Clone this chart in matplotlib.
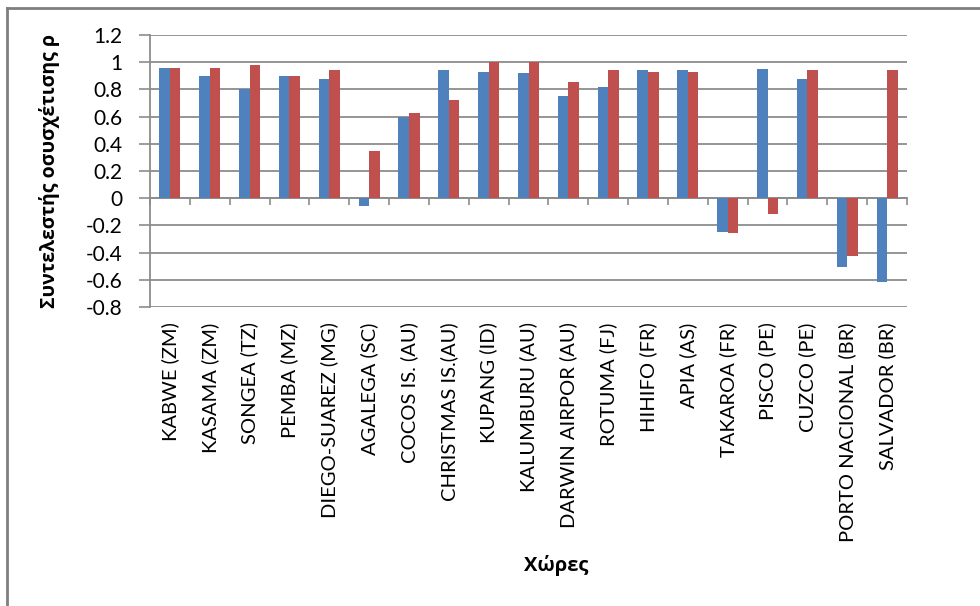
import matplotlib.pyplot as plt
import numpy as np

stations = ['KABWE (ZM)', 'KASAMA (ZM)', 'SONGEA (TZ)', 'PEMBA (MZ)', 'DIEGO-SUAREZ (MG)',
            'AGALEGA (SC)', 'COCOS IS. (AU)', 'CHRISTMAS IS.(AU)', 'KUPANG (ID)',
            'KALUMBURU (AU)', 'DARWIN AIRPOR (AU)', 'ROTUMA (FJ)', 'HIHIFO (FR)', 'APIA (AS)',
            'TAKAROA (FR)', 'PISCO (PE)', 'CUZCO (PE)', 'PORTO NACIONAL (BR)', 'SALVADOR (BR)']
blue_vals = [0.96, 0.895, 0.80, 0.895, 0.877, -0.056, 0.598, 0.946, 0.931, 0.922,
             0.755, 0.814, 0.946, 0.939, -0.245, 0.953, 0.880, -0.505, -0.615]
red_vals = [0.96, 0.96, 0.978, 0.895, 0.946, 0.35, 0.627, 0.72, 1.0, 1.0,
            0.855, 0.946, 0.931, 0.931, -0.255, -0.113, 0.946, -0.422, 0.939]
yticks = [-0.8, -0.6, -0.4, -0.2, 0, 0.2, 0.4, 0.6, 0.8, 1, 1.2]
ytick_labels = ['-0.8', '-0.6', '-0.4', '-0.2', '0', '0.2', '0.4', '0.6', '0.8', '1', '1.2']

BLUE = '#4F81BD'
RED = '#C0504D'
GRID = '#8C8C8C'

plt.rcParams['font.family'] = ['Lato', 'Noto Sans', 'DejaVu Sans']

fig = plt.figure(figsize=(9.8, 6.06), dpi=100)
W, H = 980, 606
ax = fig.add_axes([150 / W, 1 - 307 / H, (907 - 150) / W, (307 - 35) / H])

x = np.arange(len(stations))
w = 0.265
ax.bar(x - w / 2, blue_vals, w, color=BLUE, zorder=3)
ax.bar(x + w / 2, red_vals, w, color=RED, zorder=3)

ax.set_xlim(-0.5, len(stations) - 0.5)
ax.set_ylim(-0.8, 1.2)
ax.set_yticks(yticks)
ax.set_yticklabels(ytick_labels)
ax.yaxis.grid(True, color=GRID, lw=1.3)
ax.set_axisbelow(True)
ax.tick_params(axis='y', length=8, color=GRID, width=1.2, pad=12, labelsize=15)

ax.set_xticks(x)
ax.set_xticklabels(stations, rotation=90, va='top', ha='center', fontsize=14.5)
ax.tick_params(axis='x', length=0, pad=11)

for s in ['top', 'right', 'bottom']:
    ax.spines[s].set_visible(False)
ax.spines['left'].set_color(GRID)
ax.spines['left'].set_linewidth(1.3)

# zero axis line with category boundary ticks
sec = ax.secondary_xaxis(0.4)
sec.set_xticks(np.arange(len(stations) + 1) - 0.5)
sec.set_xticklabels([])
sec.tick_params(length=5, color=GRID, width=1.2, direction='out')
sec.spines['bottom'].set_color(GRID)
sec.spines['bottom'].set_linewidth(1.3)

greek = ['Open Sans', 'Noto Sans', 'DejaVu Sans']
fig.text(49 / W, 1 - 171 / H, 'Συντελεστής οσυσχέτισης ρ', rotation=90, ha='center', va='center',
         fontsize=14, fontweight='bold', family=greek)
fig.text(556 / W, 1 - 565 / H, 'Χώρες', ha='center', va='center',
         fontsize=14.5, fontweight='bold', family=greek)

# outer frame (top and left edges visible)
fig.add_artist(plt.Line2D([7 / W, 1], [1 - 8 / H, 1 - 8 / H], color='#7F7F7F', lw=2))
fig.add_artist(plt.Line2D([7 / W, 7 / W], [0, 1 - 8 / H], color='#7F7F7F', lw=2))

fig.savefig('out.png', dpi=100)
